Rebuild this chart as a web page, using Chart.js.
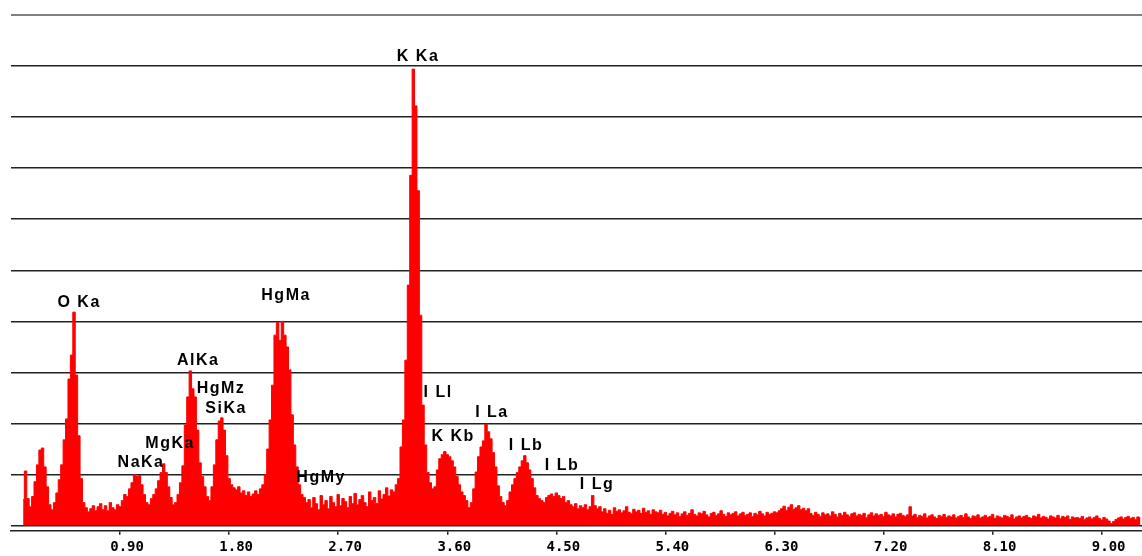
<!DOCTYPE html>
<html>
<head>
<meta charset="utf-8">
<script src="https://cdn.jsdelivr.net/npm/chart.js@4.4.1/dist/chart.umd.min.js"></script>
<style>
  html, body { margin: 0; padding: 0; background: #fff; }
  canvas { display: block; }
</style>
</head>
<body>
<canvas id="spectrum" width="1142" height="556"></canvas>
<script>
// EDS spectrum, 20 eV channels starting at 0.10 keV
const channelStartKeV = 0.10
const channelWidthKeV = 0.02

// 0.10 - 3.18 keV : O, Na, Mg, Al, Si, Hg M lines
const lowCounts = [
  51, 107, 53, 37, 57, 86, 119, 148, 152, 115,
  76, 41, 31, 45, 64, 90, 119, 168, 209, 287,
  334, 418, 295, 176, 92, 45, 35, 27, 33, 39,
  29, 37, 43, 31, 39, 29, 45, 35, 31, 41,
  37, 49, 61, 57, 72, 84, 100, 96, 98, 80,
  61, 45, 41, 53, 61, 72, 88, 104, 121, 104,
  76, 55, 41, 45, 61, 84, 117, 197, 252, 303,
  268, 252, 187, 123, 96, 76, 57, 49, 76, 119,
  168, 205, 211, 187, 137, 92, 80, 74, 70, 76,
  64, 68, 59, 66, 57, 62, 68, 61, 72, 80,
  100, 150, 207, 275, 373, 398, 363, 400, 373, 350,
  305, 217, 158, 115, 80, 61, 55, 45, 51, 35,
  55, 43, 31, 59, 41, 49, 33, 57, 45, 37,
  61, 39, 53, 47, 35, 57, 43, 63, 41, 51,
  59, 45, 37, 66, 49, 55, 43, 68, 52, 61,
]

// 3.20 - 4.86 keV : K K lines, I L lines
const midCounts = [
  74, 58, 70, 66, 80, 92, 154, 207, 324, 471,
  686, 894, 822, 656, 412, 236, 158, 104, 84, 72,
  76, 109, 131, 139, 145, 139, 135, 127, 115, 96,
  80, 66, 59, 49, 35, 45, 72, 105, 135, 154,
  166, 199, 184, 170, 143, 115, 78, 57, 45, 39,
  49, 66, 80, 92, 104, 115, 127, 137, 123, 109,
  92, 74, 59, 53, 49, 45, 55, 59, 62, 57,
  64, 59, 53, 57, 45, 49, 41, 37, 43, 33,
  39, 35, 41, 31, 37, 59, 39, 33, 37,
]

// 4.88 - 9.32 keV : background
const highCounts = [
  27, 33, 24, 30, 22, 35, 28, 31, 25, 29, 37, 26, 23, 32, 27, 30, 24, 34, 26, 29, 22, 31, 27, 25, 30,
  22, 26, 19, 24, 28, 21, 25, 18, 23, 27, 20, 24, 31, 22, 19, 25, 23, 28, 21, 17, 24, 26, 20, 23, 29,
  22, 18, 25, 21, 24, 27, 19, 23, 26, 20, 22, 25, 18, 24, 21, 28, 23, 19, 26, 22, 24, 27, 25, 29,
  33, 38, 30, 36, 41, 32, 35, 39, 31, 34, 29, 33,
  24, 20, 26, 22, 18, 25, 21, 23, 19, 27, 22, 17, 24, 20, 26, 21, 18, 23, 25, 19, 22, 20, 24, 16, 21,
  25, 19, 23, 20, 22, 18, 26, 21, 19, 23, 17, 22, 24, 20, 18, 21, 37,
  19, 22, 16, 20, 18, 23, 15, 19, 21, 17, 14, 20, 18, 22, 16, 19, 17, 21, 15, 18, 20, 16, 23, 17, 14,
  19, 18, 21, 15, 17, 20, 16, 18, 22, 14, 19, 17, 15, 20, 18, 16, 21, 13, 17, 19, 15, 18, 20, 16, 14,
  19, 17, 22, 15, 18, 16, 13, 19, 17, 15, 20, 14, 18, 16, 19, 12, 17, 15,
  16, 14, 18, 12, 15, 17, 13, 16, 19, 14, 11, 16, 13, 9, 4,
  8, 12, 15, 17, 13, 16, 18, 14, 16, 12, 17, 15,
]

const tickKeV = [0.9, 1.8, 2.7, 3.6, 4.5, 5.4, 6.3, 7.2, 8.1, 9.0]
const gridCounts = [0, 100, 200, 300, 400, 500, 600, 700, 800, 900, 1000]

const peakNames = ['O Ka', 'NaKa', 'MgKa', 'AlKa', 'HgMz', 'SiKa', 'HgMa', 'HgMy', 'K Ka', 'I Ll', 'K Kb', 'I La', 'I Lb', 'I Lb', 'I Lg']
const peakKeV = [0.562, 1.073, 1.313, 1.544, 1.733, 1.775, 2.270, 2.559, 3.359, 3.524, 3.648, 3.969, 4.250, 4.547, 4.836]
const peakLabelCounts = [437, 123, 160, 324, 268, 230, 451, 94, 918, 260, 174, 221, 156, 117, 80]

const counts = lowCounts.concat(midCounts, highCounts)
const energies = counts.map((_, i) => +(channelStartKeV + i * channelWidthKeV).toFixed(2))

const peakLabels = {
  id: 'peakLabels',
  afterDatasetsDraw(chart) {
    const { ctx, scales } = chart
    ctx.save()
    ctx.font = 'bold 16px "Liberation Sans", Arial, sans-serif'
    ctx.letterSpacing = '1.5px'
    ctx.fillStyle = '#000'
    ctx.textAlign = 'center'
    ctx.textBaseline = 'middle'
    peakNames.forEach((name, i) => {
      ctx.fillText(name, scales.x.getPixelForValue(peakKeV[i]), scales.y.getPixelForValue(peakLabelCounts[i]))
    })
    ctx.restore()
  },
}

new Chart('spectrum', {
  type: 'line',
  data: {
    labels: energies,
    datasets: [{
      data: counts,
      stepped: 'middle',
      fill: 'origin',
      backgroundColor: '#ff0000',
      borderColor: '#ff0000',
      borderWidth: 1,
      pointRadius: 0,
    }],
  },
  options: {
    responsive: false,
    animation: false,
    layout: { padding: { left: 11, top: 15, right: 0, bottom: -3.5 } },
    plugins: {
      legend: { display: false },
      tooltip: { enabled: false },
    },
    scales: {
      x: {
        type: 'linear',
        min: 0,
        max: 9.333,
        afterBuildTicks: (scale) => { scale.ticks = tickKeV.map((v) => ({ value: v })) },
        border: { display: true, color: '#222', width: 1.5 },
        grid: { drawOnChartArea: false, drawTicks: true, tickLength: 4, color: '#222', lineWidth: 1.5 },
        ticks: {
          padding: 4,
          labelOffset: 7,
          maxRotation: 0,
          autoSkip: false,
          color: '#000',
          font: { family: '"DejaVu Sans Mono", monospace', size: 14, weight: 'bold' },
          callback: (v) => Number(v).toFixed(2),
        },
      },
      y: {
        min: -10,
        max: 1000,
        afterBuildTicks: (scale) => { scale.ticks = gridCounts.map((v) => ({ value: v })) },
        border: { display: false },
        grid: {
          drawTicks: false,
          color: (c) => (c.tick && c.tick.value === 1000 ? '#808080' : '#222'),
          lineWidth: (c) => (c.tick && c.tick.value === 1000 ? 2 : 1.5),
        },
        ticks: { display: false },
      },
    },
  },
  plugins: [peakLabels],
})
</script>
</body>
</html>
